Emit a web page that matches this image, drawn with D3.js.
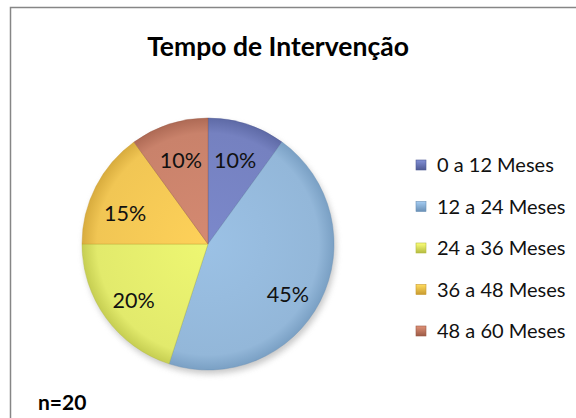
<!DOCTYPE html>
<html>
<head>
<meta charset="utf-8">
<script src="https://cdn.jsdelivr.net/npm/d3@7"></script>
<style>
  body { margin: 0; background: #fff; }
  text { font-family: Lato, "Open Sans", "Liberation Sans", sans-serif; }
</style>
</head>
<body>
<div id="chart"></div>
<script>
// data
const categories = ["0 a 12 Meses", "12 a 24 Meses", "24 a 36 Meses", "36 a 48 Meses", "48 a 60 Meses"];
const values = [10, 45, 20, 15, 10];
const colors = ["#7581c0", "#93b7d9", "#e2ea6c", "#f1c654", "#c9826b"];
const edgeColors = ["#4f5a94", "#6a90b6", "#b4bb40", "#c89a30", "#9c5a46"];

const W = 576, H = 418;
const cx = 208, cy = 244, r = 126;
// small label nudges (Excel best-fit placement)
const labelNudge = [[-1, 3], [-1, 9], [-1, 3], [-2, 11], [1, 3]];

const svg = d3.select("#chart").append("svg")
    .attr("width", W)
    .attr("height", H);

const defs = svg.append("defs");

// gradients per slice, lighter centre darker rim
colors.forEach((c, i) => {
    const g = defs.append("radialGradient")
        .attr("id", "grad" + i)
        .attr("gradientUnits", "userSpaceOnUse")
        .attr("cx", 0).attr("cy", 0).attr("r", r);
    g.append("stop").attr("offset", "0%").attr("stop-color", d3.color(c).brighter(0.15));
    g.append("stop").attr("offset", "88%").attr("stop-color", c);
    g.append("stop").attr("offset", "100%").attr("stop-color", d3.interpolateRgb(c, edgeColors[i])(0.6));

    const lg = defs.append("linearGradient")
        .attr("id", "lgrad" + i)
        .attr("x1", 0).attr("y1", 0).attr("x2", 0).attr("y2", 1);
    lg.append("stop").attr("offset", "0%").attr("stop-color", d3.color(c).brighter(0.3));
    lg.append("stop").attr("offset", "100%").attr("stop-color", edgeColors[i]);
});

const blur = defs.append("filter").attr("id", "shadow")
    .attr("x", "-20%").attr("y", "-20%").attr("width", "140%").attr("height", "140%");
blur.append("feGaussianBlur").attr("stdDeviation", 3);

// chart border
svg.append("rect")
    .attr("x", 10.5).attr("y", 7.5)
    .attr("width", 700).attr("height", 500)
    .attr("fill", "none")
    .attr("stroke", "#868686")
    .attr("stroke-width", 1.5);

// title
svg.append("text")
    .attr("x", 278)
    .attr("y", 56)
    .attr("text-anchor", "middle")
    .attr("font-weight", "bold")
    .attr("font-size", 26.5)
    .text("Tempo de Intervenção");

const pie = d3.pie().sort(null).value(d => d);
const arcs = pie(values);
const arc = d3.arc().innerRadius(0).outerRadius(r);
const labelArc = d3.arc().innerRadius(r * 0.72).outerRadius(r * 0.72);

const g = svg.append("g").attr("transform", `translate(${cx},${cy})`);

// shadow
g.append("circle")
    .attr("cx", 2).attr("cy", 4).attr("r", r)
    .attr("fill", "#9a9a9a")
    .attr("opacity", 0.55)
    .attr("filter", "url(#shadow)");

g.selectAll("path.slice")
    .data(arcs)
    .enter()
    .append("path")
    .attr("class", "slice")
    .attr("d", arc)
    .attr("fill", (d, i) => `url(#grad${i})`)
    .attr("stroke", (d, i) => edgeColors[i])
    .attr("stroke-opacity", 0.5)
    .attr("stroke-width", 0.8);

g.selectAll("text.lbl")
    .data(arcs)
    .enter()
    .append("text")
    .attr("class", "lbl")
    .attr("transform", (d, i) => {
        const [x, y] = labelArc.centroid(d);
        return `translate(${x + labelNudge[i][0]},${y + labelNudge[i][1]})`;
    })
    .attr("text-anchor", "middle")
    .attr("dy", "0.35em")
    .attr("font-size", 21.5)
    .attr("fill", "#111")
    .text(d => d.data + "%");

// legend
const legend = svg.append("g").attr("transform", "translate(416,165)");
const rows = legend.selectAll("g")
    .data(categories)
    .enter()
    .append("g")
    .attr("transform", (d, i) => `translate(0,${i * 41.5})`);

rows.append("rect")
    .attr("x", 0).attr("y", -5)
    .attr("width", 10).attr("height", 10)
    .attr("fill", (d, i) => `url(#lgrad${i})`)
    .attr("stroke", (d, i) => edgeColors[i])
    .attr("stroke-width", 0.6);

rows.append("text")
    .attr("x", 21)
    .attr("dy", "0.35em")
    .attr("font-size", 20)
    .attr("fill", "#111")
    .text(d => d);

// sample size note
svg.append("text")
    .attr("x", 38)
    .attr("y", 410)
    .attr("font-weight", "bold")
    .attr("font-size", 21)
    .text("n=20");
</script>
</body>
</html>
